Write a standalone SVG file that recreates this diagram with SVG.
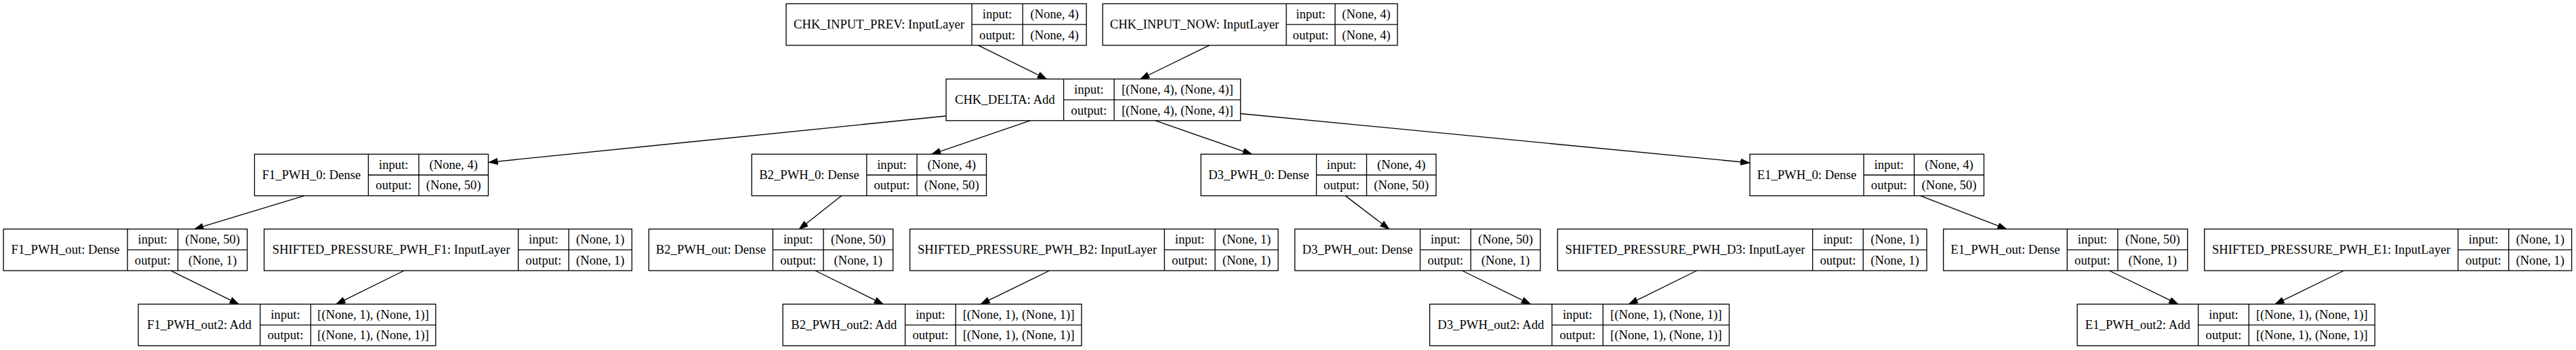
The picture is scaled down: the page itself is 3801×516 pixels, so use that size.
<svg xmlns="http://www.w3.org/2000/svg" width="3801" height="516" viewBox="0 0 3801 516">
<style>
.b{fill:#fff;stroke:#000;stroke-width:1.33}
.d{fill:none;stroke:#000;stroke-width:1.33}
text{font-family:"Liberation Serif","Times New Roman",serif;font-size:18.67px;text-anchor:middle;fill:#000}
.e line{stroke:#000;stroke-width:1.33;marker-end:url(#ah)}
</style>
<defs>
<marker id="ah" markerUnits="userSpaceOnUse" markerWidth="15" markerHeight="11" refX="13.3" refY="4.67" orient="auto" viewBox="0 0 15 11">
<path d="M0,0 L13.3,4.67 L0,9.33 z" fill="#000" stroke="#000" stroke-width="1"/>
</marker>
</defs>
<rect width="3801" height="516" fill="#fff"/>

<g class="e" id="edges">
<line x1="1443.5" y1="66.8" x2="1544.3" y2="116.5"/>
<line x1="1784.7" y1="66.8" x2="1682.7" y2="116.5"/>
<line x1="1396" y1="171" x2="721.4" y2="239.3"/>
<line x1="1520" y1="177.8" x2="1375" y2="227.3"/>
<line x1="1705" y1="177.8" x2="1847" y2="227.3"/>
<line x1="1830.5" y1="167.5" x2="2581.5" y2="240"/>
<line x1="449" y1="288.6" x2="287" y2="337.7"/>
<line x1="1241.8" y1="288.6" x2="1179.3" y2="337.7"/>
<line x1="1985.2" y1="288.6" x2="2049.6" y2="337.7"/>
<line x1="2833.6" y1="288.6" x2="2960.6" y2="337.7"/>
<line x1="251.9" y1="399" x2="352" y2="448.4"/>
<line x1="596.3" y1="399" x2="496.2" y2="448.4"/>
<line x1="1202.9" y1="399" x2="1303" y2="448.4"/>
<line x1="1548.6" y1="399" x2="1447.2" y2="448.4"/>
<line x1="2157.4" y1="399" x2="2258.2" y2="448.4"/>
<line x1="2503.7" y1="399" x2="2403.6" y2="448.4"/>
<line x1="3112.4" y1="399" x2="3213.7" y2="448.4"/>
<line x1="3458.5" y1="399" x2="3357.3" y2="448.4"/>
</g>

<!-- Row 0 -->
<g id="CHK_INPUT_PREV">
<rect class="b" x="1160" y="5.5" width="443" height="61.3"/>
<path class="d" d="M1434 5.5V66.8M1509 5.5V66.8M1434 36.2H1603"/>
<text x="1297" y="42.2">CHK_INPUT_PREV: InputLayer</text>
<text x="1471.5" y="26.8">input:</text><text x="1471.5" y="57.5">output:</text>
<text x="1556" y="26.8">(None, 4)</text><text x="1556" y="57.5">(None, 4)</text>
</g>
<g id="CHK_INPUT_NOW">
<rect class="b" x="1627" y="5.5" width="435" height="61.3"/>
<path class="d" d="M1898 5.5V66.8M1970 5.5V66.8M1898 36.2H2062"/>
<text x="1762.5" y="42.2">CHK_INPUT_NOW: InputLayer</text>
<text x="1934" y="26.8">input:</text><text x="1934" y="57.5">output:</text>
<text x="2016" y="26.8">(None, 4)</text><text x="2016" y="57.5">(None, 4)</text>
</g>

<!-- Row 1 -->
<g id="CHK_DELTA">
<rect class="b" x="1396" y="116.5" width="434.5" height="61.3"/>
<path class="d" d="M1569.5 116.5V177.8M1644 116.5V177.8M1569.5 147.2H1830.5"/>
<text x="1482.75" y="153.2">CHK_DELTA: Add</text>
<text x="1606.75" y="137.8">input:</text><text x="1606.75" y="168.5">output:</text>
<text x="1737.25" y="137.8">[(None, 4), (None, 4)]</text><text x="1737.25" y="168.5">[(None, 4), (None, 4)]</text>
</g>

<!-- Row 2 -->
<g id="F1_PWH_0">
<rect class="b" x="375.5" y="227.3" width="345" height="61.3"/>
<path class="d" d="M543.5 227.3V288.6M618 227.3V288.6M543.5 258H720.5"/>
<text x="459.5" y="264">F1_PWH_0: Dense</text>
<text x="580.75" y="248.6">input:</text><text x="580.75" y="279.3">output:</text>
<text x="669.25" y="248.6">(None, 4)</text><text x="669.25" y="279.3">(None, 50)</text>
</g>
<g id="B2_PWH_0">
<rect class="b" x="1109.2" y="227.3" width="346.3" height="61.3"/>
<path class="d" d="M1278.8 227.3V288.6M1353 227.3V288.6M1278.8 258H1455.5"/>
<text x="1194" y="264">B2_PWH_0: Dense</text>
<text x="1315.9" y="248.6">input:</text><text x="1315.9" y="279.3">output:</text>
<text x="1404.25" y="248.6">(None, 4)</text><text x="1404.25" y="279.3">(None, 50)</text>
</g>
<g id="D3_PWH_0">
<rect class="b" x="1772" y="227.3" width="347" height="61.3"/>
<path class="d" d="M1942.5 227.3V288.6M2016.5 227.3V288.6M1942.5 258H2119"/>
<text x="1857.25" y="264">D3_PWH_0: Dense</text>
<text x="1979.5" y="248.6">input:</text><text x="1979.5" y="279.3">output:</text>
<text x="2067.75" y="248.6">(None, 4)</text><text x="2067.75" y="279.3">(None, 50)</text>
</g>
<g id="E1_PWH_0">
<rect class="b" x="2582" y="227.3" width="345.4" height="61.3"/>
<path class="d" d="M2750 227.3V288.6M2824.5 227.3V288.6M2750 258H2927.4"/>
<text x="2666" y="264">E1_PWH_0: Dense</text>
<text x="2787.25" y="248.6">input:</text><text x="2787.25" y="279.3">output:</text>
<text x="2875.95" y="248.6">(None, 4)</text><text x="2875.95" y="279.3">(None, 50)</text>
</g>

<!-- Row 3 -->
<g id="F1_PWH_out">
<rect class="b" x="5.1" y="337.7" width="359.7" height="61.3"/>
<path class="d" d="M188.1 337.7V399M262.5 337.7V399M188.1 368.4H364.8"/>
<text x="96.6" y="374.4">F1_PWH_out: Dense</text>
<text x="225.3" y="359">input:</text><text x="225.3" y="389.7">output:</text>
<text x="313.65" y="359">(None, 50)</text><text x="313.65" y="389.7">(None, 1)</text>
</g>
<g id="SHIFTED_PRESSURE_PWH_F1">
<rect class="b" x="389.7" y="337.7" width="542.7" height="61.3"/>
<path class="d" d="M764.7 337.7V399M839.3 337.7V399M764.7 368.4H932.4"/>
<text x="577.2" y="374.4">SHIFTED_PRESSURE_PWH_F1: InputLayer</text>
<text x="802" y="359">input:</text><text x="802" y="389.7">output:</text>
<text x="885.85" y="359">(None, 1)</text><text x="885.85" y="389.7">(None, 1)</text>
</g>
<g id="B2_PWH_out">
<rect class="b" x="957.4" y="337.7" width="360.3" height="61.3"/>
<path class="d" d="M1140.4 337.7V399M1215 337.7V399M1140.4 368.4H1317.7"/>
<text x="1048.9" y="374.4">B2_PWH_out: Dense</text>
<text x="1177.7" y="359">input:</text><text x="1177.7" y="389.7">output:</text>
<text x="1266.35" y="359">(None, 50)</text><text x="1266.35" y="389.7">(None, 1)</text>
</g>
<g id="SHIFTED_PRESSURE_PWH_B2">
<rect class="b" x="1342.6" y="337.7" width="543.4" height="61.3"/>
<path class="d" d="M1718.2 337.7V399M1792.9 337.7V399M1718.2 368.4H1886"/>
<text x="1530.4" y="374.4">SHIFTED_PRESSURE_PWH_B2: InputLayer</text>
<text x="1755.55" y="359">input:</text><text x="1755.55" y="389.7">output:</text>
<text x="1839.45" y="359">(None, 1)</text><text x="1839.45" y="389.7">(None, 1)</text>
</g>
<g id="D3_PWH_out">
<rect class="b" x="1910.6" y="337.7" width="362.2" height="61.3"/>
<path class="d" d="M2095.5 337.7V399M2170.2 337.7V399M2095.5 368.4H2272.8"/>
<text x="2003.05" y="374.4">D3_PWH_out: Dense</text>
<text x="2132.85" y="359">input:</text><text x="2132.85" y="389.7">output:</text>
<text x="2221.5" y="359">(None, 50)</text><text x="2221.5" y="389.7">(None, 1)</text>
</g>
<g id="SHIFTED_PRESSURE_PWH_D3">
<rect class="b" x="2298.3" y="337.7" width="544.7" height="61.3"/>
<path class="d" d="M2674.6 337.7V399M2749.2 337.7V399M2674.6 368.4H2843"/>
<text x="2486.45" y="374.4">SHIFTED_PRESSURE_PWH_D3: InputLayer</text>
<text x="2711.9" y="359">input:</text><text x="2711.9" y="389.7">output:</text>
<text x="2796.1" y="359">(None, 1)</text><text x="2796.1" y="389.7">(None, 1)</text>
</g>
<g id="E1_PWH_out">
<rect class="b" x="2867.6" y="337.7" width="360.2" height="61.3"/>
<path class="d" d="M3050.2 337.7V399M3124.9 337.7V399M3050.2 368.4H3227.8"/>
<text x="2958.9" y="374.4">E1_PWH_out: Dense</text>
<text x="3087.55" y="359">input:</text><text x="3087.55" y="389.7">output:</text>
<text x="3176.35" y="359">(None, 50)</text><text x="3176.35" y="389.7">(None, 1)</text>
</g>
<g id="SHIFTED_PRESSURE_PWH_E1">
<rect class="b" x="3252.7" y="337.7" width="541.9" height="61.3"/>
<path class="d" d="M3627 337.7V399M3701.7 337.7V399M3627 368.4H3794.6"/>
<text x="3439.85" y="374.4">SHIFTED_PRESSURE_PWH_E1: InputLayer</text>
<text x="3664.35" y="359">input:</text><text x="3664.35" y="389.7">output:</text>
<text x="3748.15" y="359">(None, 1)</text><text x="3748.15" y="389.7">(None, 1)</text>
</g>

<!-- Row 4 -->
<g id="F1_PWH_out2">
<rect class="b" x="204.1" y="448.4" width="438.8" height="61.3"/>
<path class="d" d="M383.9 448.4V509.7M458.5 448.4V509.7M383.9 479.1H642.9"/>
<text x="294" y="485.1">F1_PWH_out2: Add</text>
<text x="421.2" y="469.7">input:</text><text x="421.2" y="500.4">output:</text>
<text x="550.7" y="469.7">[(None, 1), (None, 1)]</text><text x="550.7" y="500.4">[(None, 1), (None, 1)]</text>
</g>
<g id="B2_PWH_out2">
<rect class="b" x="1155.1" y="448.4" width="440.7" height="61.3"/>
<path class="d" d="M1335.6 448.4V509.7M1410.2 448.4V509.7M1335.6 479.1H1595.8"/>
<text x="1245.35" y="485.1">B2_PWH_out2: Add</text>
<text x="1372.9" y="469.7">input:</text><text x="1372.9" y="500.4">output:</text>
<text x="1503" y="469.7">[(None, 1), (None, 1)]</text><text x="1503" y="500.4">[(None, 1), (None, 1)]</text>
</g>
<g id="D3_PWH_out2">
<rect class="b" x="2109.6" y="448.4" width="441.9" height="61.3"/>
<path class="d" d="M2290 448.4V509.7M2365.3 448.4V509.7M2290 479.1H2551.5"/>
<text x="2199.8" y="485.1">D3_PWH_out2: Add</text>
<text x="2327.65" y="469.7">input:</text><text x="2327.65" y="500.4">output:</text>
<text x="2458.4" y="469.7">[(None, 1), (None, 1)]</text><text x="2458.4" y="500.4">[(None, 1), (None, 1)]</text>
</g>
<g id="E1_PWH_out2">
<rect class="b" x="3065.1" y="448.4" width="439.1" height="61.3"/>
<path class="d" d="M3243.6 448.4V509.7M3318.3 448.4V509.7M3243.6 479.1H3504.2"/>
<text x="3154.35" y="485.1">E1_PWH_out2: Add</text>
<text x="3281" y="469.7">input:</text><text x="3281" y="500.4">output:</text>
<text x="3411.25" y="469.7">[(None, 1), (None, 1)]</text><text x="3411.25" y="500.4">[(None, 1), (None, 1)]</text>
</g>
</svg>
